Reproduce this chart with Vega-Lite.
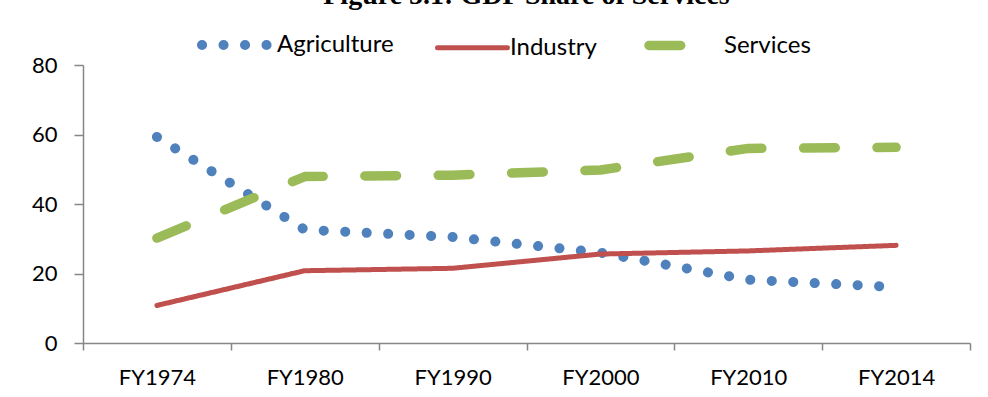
{
  "$schema": "https://vega.github.io/schema/vega-lite/v6.json",
  "autosize": "none",
  "width": 887,
  "height": 278,
  "padding": {"left": 83, "top": 65, "right": 18, "bottom": 54},
  "background": "white",
  "title": {
    "text": "Figure 5.1: GDP Share of Services",
    "font": "Liberation Serif",
    "fontSize": 28,
    "fontWeight": "bold",
    "color": "black",
    "anchor": "middle",
    "offset": -5
  },
  "data": {
    "values": [
      {"idx": 0, "year": "FY1974", "series": "Agriculture", "value": 59.3},
      {"idx": 1, "year": "FY1980", "series": "Agriculture", "value": 32.6},
      {"idx": 2, "year": "FY1990", "series": "Agriculture", "value": 30.5},
      {"idx": 3, "year": "FY2000", "series": "Agriculture", "value": 26.0},
      {"idx": 4, "year": "FY2010", "series": "Agriculture", "value": 18.2},
      {"idx": 5, "year": "FY2014", "series": "Agriculture", "value": 16.1},
      {"idx": 0, "year": "FY1974", "series": "Industry", "value": 10.8},
      {"idx": 1, "year": "FY1980", "series": "Industry", "value": 20.8},
      {"idx": 2, "year": "FY1990", "series": "Industry", "value": 21.5},
      {"idx": 3, "year": "FY2000", "series": "Industry", "value": 25.6},
      {"idx": 4, "year": "FY2010", "series": "Industry", "value": 26.5},
      {"idx": 5, "year": "FY2014", "series": "Industry", "value": 28.1},
      {"idx": 0, "year": "FY1974", "series": "Services", "value": 30.2},
      {"idx": 1, "year": "FY1980", "series": "Services", "value": 47.9},
      {"idx": 2, "year": "FY1990", "series": "Services", "value": 48.3},
      {"idx": 3, "year": "FY2000", "series": "Services", "value": 49.8},
      {"idx": 4, "year": "FY2010", "series": "Services", "value": 56.0},
      {"idx": 5, "year": "FY2014", "series": "Services", "value": 56.3}
    ]
  },
  "mark": {"type": "line", "strokeCap": "round", "strokeJoin": "round", "clip": false},
  "encoding": {
    "x": {
      "field": "idx",
      "type": "quantitative",
      "scale": {"domain": [-0.5, 5.5], "nice": false, "zero": false},
      "axis": {
        "title": null,
        "grid": false,
        "values": [-0.5, 0, 0.5, 1, 1.5, 2, 2.5, 3, 3.5, 4, 4.5, 5, 5.5],
        "labelExpr": "datum.value % 1 === 0 ? ['FY1974','FY1980','FY1990','FY2000','FY2010','FY2014'][datum.value] : ''",
        "tickOpacity": {"condition": {"test": "datum.value % 1 === 0", "value": 0}, "value": 1},
        "labelOverlap": false,
        "labelFlush": false,
        "tickSize": 7,
        "labelPadding": 17
      }
    },
    "y": {
      "field": "value",
      "type": "quantitative",
      "scale": {"domain": [0, 80], "nice": false},
      "axis": {"title": null, "grid": false, "values": [0, 20, 40, 60, 80], "tickSize": 9, "labelPadding": 17}
    },
    "color": {
      "field": "series",
      "type": "nominal",
      "scale": {"domain": ["Agriculture", "Industry", "Services"], "range": ["#4F81BD", "#C0504D", "#9BBB59"]},
      "legend": {
        "title": null,
        "orient": "none",
        "legendX": 114,
        "legendY": -60,
        "direction": "horizontal",
        "symbolType": "stroke",
        "symbolSize": 4900,
        "columnPadding": 33,
        "labelOffset": 0,
        "encode": {"symbols": {"update": {"strokeCap": {"value": "round"}}}}
      }
    },
    "strokeDash": {
      "field": "series",
      "type": "nominal",
      "scale": {"domain": ["Agriculture", "Industry", "Services"], "range": [[0.1, 21.4], [1, 0], [31.7, 41.7]]},
      "legend": {
        "title": null,
        "orient": "none",
        "legendX": 114,
        "legendY": -60,
        "direction": "horizontal",
        "symbolType": "stroke",
        "symbolSize": 4900,
        "columnPadding": 33,
        "labelOffset": 0,
        "encode": {"symbols": {"update": {"strokeCap": {"value": "round"}}}}
      }
    },
    "strokeWidth": {
      "field": "series",
      "type": "nominal",
      "scale": {"type": "ordinal", "domain": ["Agriculture", "Industry", "Services"], "range": [10, 5, 9.5]},
      "legend": {
        "title": null,
        "orient": "none",
        "legendX": 114,
        "legendY": -60,
        "direction": "horizontal",
        "symbolType": "stroke",
        "symbolSize": 4900,
        "columnPadding": 33,
        "labelOffset": 0,
        "encode": {"symbols": {"update": {"strokeCap": {"value": "round"}}}}
      }
    }
  },
  "config": {
    "view": {"stroke": null},
    "axis": {
      "domainColor": "#868686",
      "domainWidth": 1.5,
      "tickColor": "#868686",
      "tickWidth": 1.5,
      "labelFont": "Lato",
      "labelFontSize": 22,
      "labelColor": "black"
    },
    "legend": {
      "labelFont": "Lato",
      "labelFontSize": 24,
      "labelColor": "black"
    }
  }
}
